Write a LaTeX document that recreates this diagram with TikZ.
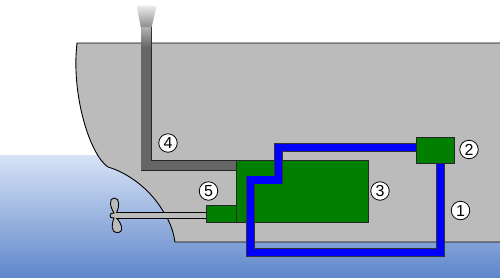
\documentclass[tikz,border=0pt]{standalone}
\usepackage{fontspec}
\setmainfont{Liberation Sans}
\definecolor{hullgrey}{RGB}{187,187,187}
\definecolor{enginegreen}{RGB}{0,127,0}
\definecolor{seatop}{RGB}{216,227,245}
\definecolor{seabottom}{RGB}{95,135,203}
\definecolor{fluegrey}{RGB}{102,102,102}
\tikzset{
  unit/.style={draw=black!85,fill=enginegreen,line width=1pt,rectangle,inner sep=0pt,anchor=north west},
  callout/.style={circle,draw=black,fill=white,line width=0.8pt,minimum size=18.5pt,inner sep=0pt,font=\fontsize{16}{16}\selectfont},
  coolant/.style={draw=blue,line width=7.2pt,line join=miter},
  coolantedge/.style={draw=black!80,line width=8.8pt,line join=miter},
  flue/.style={draw=fluegrey,line width=9.6pt,line join=miter},
  flueedge/.style={draw=black!85,line width=11.4pt,line join=miter},
}
\begin{document}
\begin{tikzpicture}[x=1pt,y=-1pt]
\useasboundingbox (0,0) rectangle (500,277);
% sea
\shade[top color=seatop,bottom color=seabottom] (0,155) rectangle (500,277);
% screw blades
\path[fill=hullgrey,draw=black,line width=0.9pt]
  (114,213) .. controls (110,207) and (108.5,198) .. (114.3,198)
  .. controls (120,198) and (119.5,207) .. (116.5,213)
  .. controls (116.5,215) and (116.5,216) .. (116.5,218)
  .. controls (121.5,223) and (124.5,232.5) .. (117.5,232.5)
  .. controls (110.5,232.5) and (111.5,224) .. (114,218)
  .. controls (111,218.5) and (110,217) .. (110,215.5)
  .. controls (110,214) and (111.5,212.5) .. (114,213) -- cycle;
% hull
\fill[hullgrey] (77,43) -- (500,43) -- (500,242) -- (175,242)
  .. controls (173,230) and (170,222) .. (163,211)
  .. controls (148,186) and (125,172) .. (108,167)
  .. controls (90,155) and (71,95) .. (77,43) -- cycle;
\draw[black,line width=0.9pt] (500,43) -- (77,43)
  .. controls (71,95) and (90,155) .. (108,167)
  .. controls (125,172) and (148,186) .. (163,211)
  .. controls (170,222) and (173,230) .. (175,242) -- (500,242);
% gearbox, main engine
\node[unit,minimum width=30pt,minimum height=17pt] (gearbox) at (206,205) {};
\node[unit,minimum width=131.5pt,minimum height=62pt] (engine) at (236,160) {};
% propeller shaft
\coordinate (hub) at (116,215.5);
\draw[black,line width=7.6pt] (hub) -- (gearbox.west |- hub);
\draw[hullgrey,line width=5.8pt] (hub) -- (gearbox.west |- hub);
% exhaust stack
\coordinate (stackbend) at (146.2,165.3);
\coordinate (stacktop) at (146.2,27);
\path[flueedge] (engine.west |- stackbend) -- (stackbend) -- (stacktop);
\path[flue] (engine.west |- stackbend) -- (stackbend) -- (stacktop);
\shade[top color=black!30,bottom color=fluegrey] (141.4,27) rectangle (151,47);
\shade[top color=black!7,bottom color=black!45] (136.7,5.5) -- (156.7,5.5) -- (151.7,27) -- (140.7,27) -- cycle;
% cooling water circuit
\node[unit,minimum width=37.5pt,minimum height=26.5pt] (cooler) at (416.3,136.8) {};
\coordinate (a) at (278.5,147.5);
\coordinate (b) at (278.5,180);
\coordinate (c) at (250.5,180);
\coordinate (d) at (250.5,252.5);
\coordinate (e) at (440.2,252.5);
\path[coolantedge] (cooler.west |- a) -- (a) -- (b) -- (c) -- (d) -- (e) -- (e |- cooler.south);
\path[coolant] (cooler.west |- a) -- (a) -- (b) -- (c) -- (d) -- (e) -- (e |- cooler.south);
% numbered callouts
\node[callout] (n1) at (460.5,210.5) {1};
\node[callout] (n2) at (469,149.5) {2};
\node[callout] (n3) at (380,191) {3};
\node[callout] (n4) at (168,143) {4};
\node[callout] (n5) at (208.5,191) {5};
\end{tikzpicture}
\end{document}
